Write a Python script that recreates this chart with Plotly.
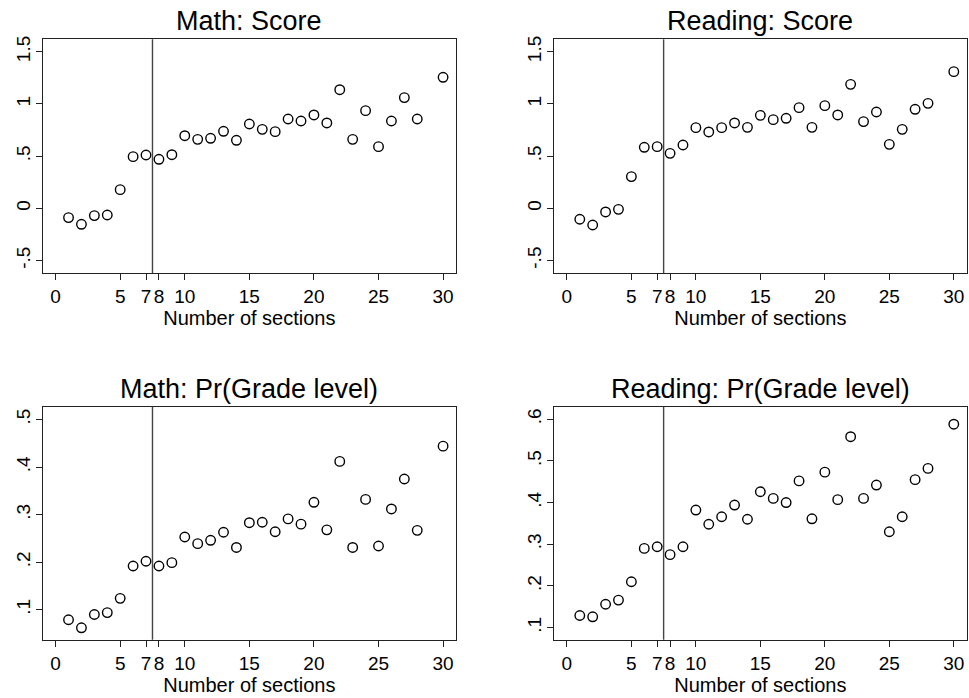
import plotly.graph_objects as go

sections = [1, 2, 3, 4, 5, 6, 7, 8, 9, 10, 11, 12, 13, 14, 15, 16, 17, 18, 19, 20,
            21, 22, 23, 24, 25, 26, 27, 28, 30]

math_score = [-0.089, -0.153, -0.070, -0.064, 0.179, 0.495, 0.511, 0.470, 0.514, 0.696,
              0.661, 0.671, 0.738, 0.652, 0.808, 0.757, 0.735, 0.856, 0.837, 0.895,
              0.818, 1.137, 0.661, 0.936, 0.591, 0.837, 1.061, 0.856, 1.256]

reading_score = [-0.105, -0.160, -0.035, -0.010, 0.304, 0.585, 0.591, 0.527, 0.607, 0.773,
                 0.732, 0.773, 0.818, 0.776, 0.891, 0.850, 0.863, 0.965, 0.776, 0.984,
                 0.895, 1.188, 0.831, 0.923, 0.613, 0.757, 0.949, 1.006, 1.310]

math_pr = [0.079, 0.062, 0.090, 0.094, 0.124, 0.192, 0.202, 0.192, 0.199, 0.253,
           0.239, 0.246, 0.263, 0.231, 0.283, 0.284, 0.264, 0.291, 0.280, 0.326,
           0.268, 0.412, 0.231, 0.332, 0.234, 0.312, 0.375, 0.267, 0.444]

reading_pr = [0.129, 0.126, 0.156, 0.166, 0.210, 0.290, 0.294, 0.275, 0.294, 0.382,
              0.348, 0.366, 0.394, 0.360, 0.426, 0.410, 0.400, 0.452, 0.361, 0.473,
              0.407, 0.558, 0.410, 0.442, 0.330, 0.366, 0.455, 0.482, 0.588]

titles = ["Math: Score", "Reading: Score", "Math: Pr(Grade level)", "Reading: Pr(Grade level)"]

x_ticks = [0, 5, 7, 8, 10, 15, 20, 25, 30]
x_ticktext = ["0", "5", "7", "8", "10", "15", "20", "25", "30"]

score_ticks = [-0.5, 0, 0.5, 1, 1.5]
score_ticktext = ["-.5", "0", ".5", "1", "1.5"]
mathpr_ticks = [0.1, 0.2, 0.3, 0.4, 0.5]
mathpr_ticktext = [".1", ".2", ".3", ".4", ".5"]
readpr_ticks = [0.1, 0.2, 0.3, 0.4, 0.5, 0.6]
readpr_ticktext = [".1", ".2", ".3", ".4", ".5", ".6"]

cutoff = 7.5
x_label = "Number of sections"

W, H = 969, 698
FONT = "Liberation Sans, Arial, Helvetica, sans-serif"

# page-pixel boxes of the plot areas (left, right, top, bottom)
boxes = [
    (42.7, 456.0, 39.3, 273.0),
    (554.0, 966.7, 39.3, 273.0),
    (42.7, 456.0, 406.7, 639.7),
    (554.0, 966.7, 406.7, 639.7),
]
yranges = [[-0.62, 1.62], [-0.62, 1.62], [0.037, 0.527], [0.071, 0.630]]
yticks = [(score_ticks, score_ticktext), (score_ticks, score_ticktext),
          (mathpr_ticks, mathpr_ticktext), (readpr_ticks, readpr_ticktext)]
series = [math_score, reading_score, math_pr, reading_pr]


def px_x(p):
    return p / W


def px_y(p):
    return 1 - p / H


fig = go.Figure()
layout = dict(
    width=W, height=H,
    margin=dict(l=0, r=0, t=0, b=0, pad=0, autoexpand=False),
    paper_bgcolor="white", plot_bgcolor="white",
    showlegend=False,
    font=dict(family=FONT, color="black"),
)
annotations = []
shapes = []

for i in range(4):
    n = i + 1
    xa = "xaxis" if n == 1 else f"xaxis{n}"
    ya = "yaxis" if n == 1 else f"yaxis{n}"
    xr = "x" if n == 1 else f"x{n}"
    yr = "y" if n == 1 else f"y{n}"
    l, r, t, b = boxes[i]
    layout[xa] = dict(
        domain=[px_x(l), min(px_x(r), 1.0)], anchor=yr, range=[-1, 31], automargin=False,
        tickmode="array", tickvals=x_ticks, ticktext=x_ticktext,
        ticks="outside", ticklen=6, tickwidth=1.2, tickcolor="#222",
        showline=True, linecolor="#222", linewidth=1.3, mirror=True,
        showgrid=False, zeroline=False,
        tickfont=dict(size=19, family=FONT, color="black"),
        ticklabelstandoff=0,
        title=dict(text=x_label, font=dict(size=20, family=FONT, color="black"), standoff=2),
    )
    yv, yt = yticks[i]
    layout[ya] = dict(
        domain=[px_y(b), px_y(t)], anchor=xr, range=yranges[i], automargin=False,
        tickmode="array", tickvals=yv, ticktext=yt, tickangle=-90,
        ticks="outside", ticklen=6, tickwidth=1.2, tickcolor="#222",
        showline=True, linecolor="#222", linewidth=1.3, mirror=True,
        showgrid=False, zeroline=False,
        tickfont=dict(size=19, family=FONT, color="black"),
        ticklabelstandoff=-2,
    )
    fig.add_trace(go.Scatter(
        x=sections, y=series[i], mode="markers", xaxis=xr, yaxis=yr,
        marker=dict(symbol="circle-open", size=9.5, color="black", line=dict(width=1.4)),
        hoverinfo="x+y",
    ))
    shapes.append(dict(type="line", xref=xr, yref=f"{yr} domain", x0=cutoff, x1=cutoff,
                       y0=0, y1=1, line=dict(color="#444", width=1.4)))
    annotations.append(dict(
        text=titles[i], xref="paper", yref="paper",
        x=px_x((l + r) / 2), y=px_y(t - 1), xanchor="center", yanchor="bottom",
        showarrow=False, font=dict(size=27, family=FONT, color="black"),
    ))

layout["annotations"] = annotations
layout["shapes"] = shapes
fig.update_layout(**layout)
fig.write_html(
    "out.html",
    config={"displayModeBar": False},
    post_script="document.body.style.margin='0';document.body.style.overflow='hidden';",
)
